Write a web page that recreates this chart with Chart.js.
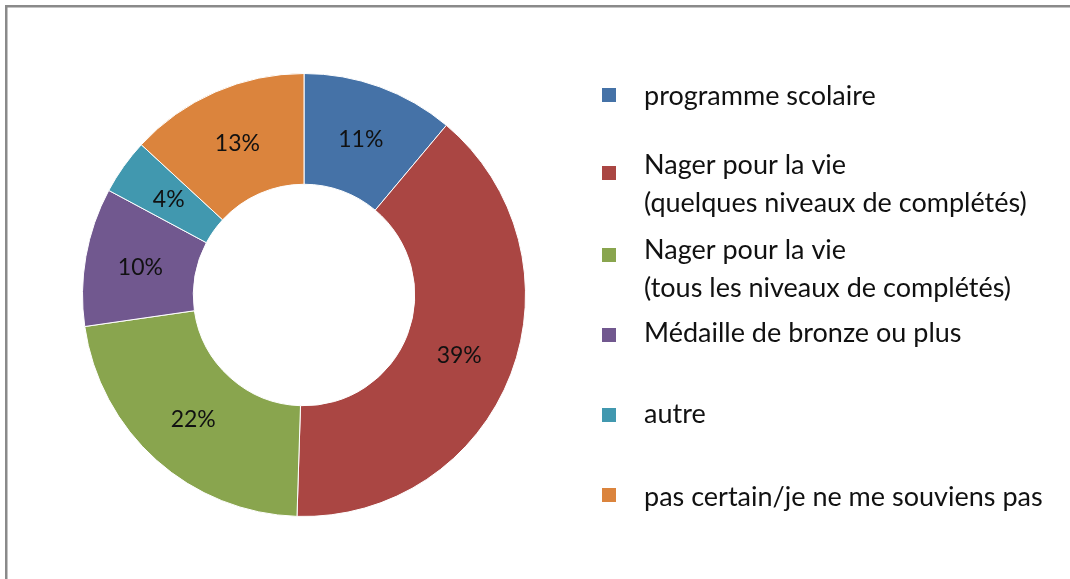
<!DOCTYPE html>
<html>
<head>
<meta charset="utf-8">
<script src="https://cdn.jsdelivr.net/npm/chart.js@4"></script>
<style>
html,body{margin:0;padding:0;background:#fff;}
canvas{display:block;}
</style>
</head>
<body>
<canvas id="c" width="1070" height="579"></canvas>
<script>
const categories = [
  ["programme scolaire"],
  ["Nager pour la vie", "(quelques niveaux de complétés)"],
  ["Nager pour la vie", "(tous les niveaux de complétés)"],
  ["Médaille de bronze ou plus"],
  ["autre"],
  ["pas certain/je ne me souviens pas"]
];
const values = [11, 39, 22, 10, 4, 13];
const colors = ["#4572A7", "#AA4643", "#89A54E", "#71588F", "#4198AF", "#DB843D"];

const LEGEND_FONT = "27px Lato";
const LABEL_FONT = "23px Lato";
const TEXT = "#111111";

const framePlugin = {
  id: "frame",
  beforeDraw(chart) {
    const ctx = chart.ctx;
    ctx.save();
    ctx.fillStyle = "#fff";
    ctx.fillRect(0, 0, chart.width, chart.height);
    ctx.strokeStyle = "#8a8a8a";
    ctx.lineWidth = 2.5;
    ctx.beginPath();
    ctx.moveTo(6.25, chart.height);
    ctx.lineTo(6.25, 6.25);
    ctx.lineTo(chart.width, 6.25);
    ctx.stroke();
    ctx.restore();
  }
};

const labelPlugin = {
  id: "arcLabels",
  afterDatasetsDraw(chart) {
    const ctx = chart.ctx;
    const meta = chart.getDatasetMeta(0);
    ctx.save();
    ctx.font = LABEL_FONT;
    ctx.fillStyle = TEXT;
    ctx.textAlign = "center";
    ctx.textBaseline = "middle";
    meta.data.forEach((arc, i) => {
      const p = arc.tooltipPosition();
      ctx.fillText(values[i] + "%", p.x, p.y + 1);
    });
    ctx.restore();
  }
};

const legendPlugin = {
  id: "customLegend",
  afterDraw(chart, args, opts) {
    const ctx = chart.ctx;
    ctx.save();
    ctx.font = LEGEND_FONT;
    ctx.textBaseline = "middle";
    ctx.textAlign = "left";
    chart.data.labels.forEach((lines, i) => {
      ctx.fillStyle = chart.data.datasets[0].backgroundColor[i];
      const my = opts.markerY[i];
      ctx.fillRect(opts.markerX, my - 7, 14, 14);
      ctx.fillStyle = TEXT;
      lines.forEach((t, j) => {
        ctx.fillText(t, opts.textX, opts.textY[i] + j * opts.lineH);
      });
    });
    ctx.restore();
  }
};

new Chart(document.getElementById("c"), {
  type: "doughnut",
  data: {
    labels: categories,
    datasets: [{
      data: values,
      backgroundColor: colors,
      borderColor: "#ffffff",
      borderWidth: 1
    }]
  },
  options: {
    responsive: false,
    animation: false,
    cutout: "50%",
    layout: { padding: { left: 82, top: 73, right: 544, bottom: 62 } },
    plugins: {
      legend: { display: false },
      tooltip: { enabled: false },
      customLegend: {
        markerX: 602,
        markerY: [95, 173, 255, 335, 415, 495],
        textX: 644,
        textY: [96, 165, 250, 333, 414, 497],
        lineH: 38
      }
    }
  },
  plugins: [framePlugin, labelPlugin, legendPlugin]
});
</script>
</body>
</html>
